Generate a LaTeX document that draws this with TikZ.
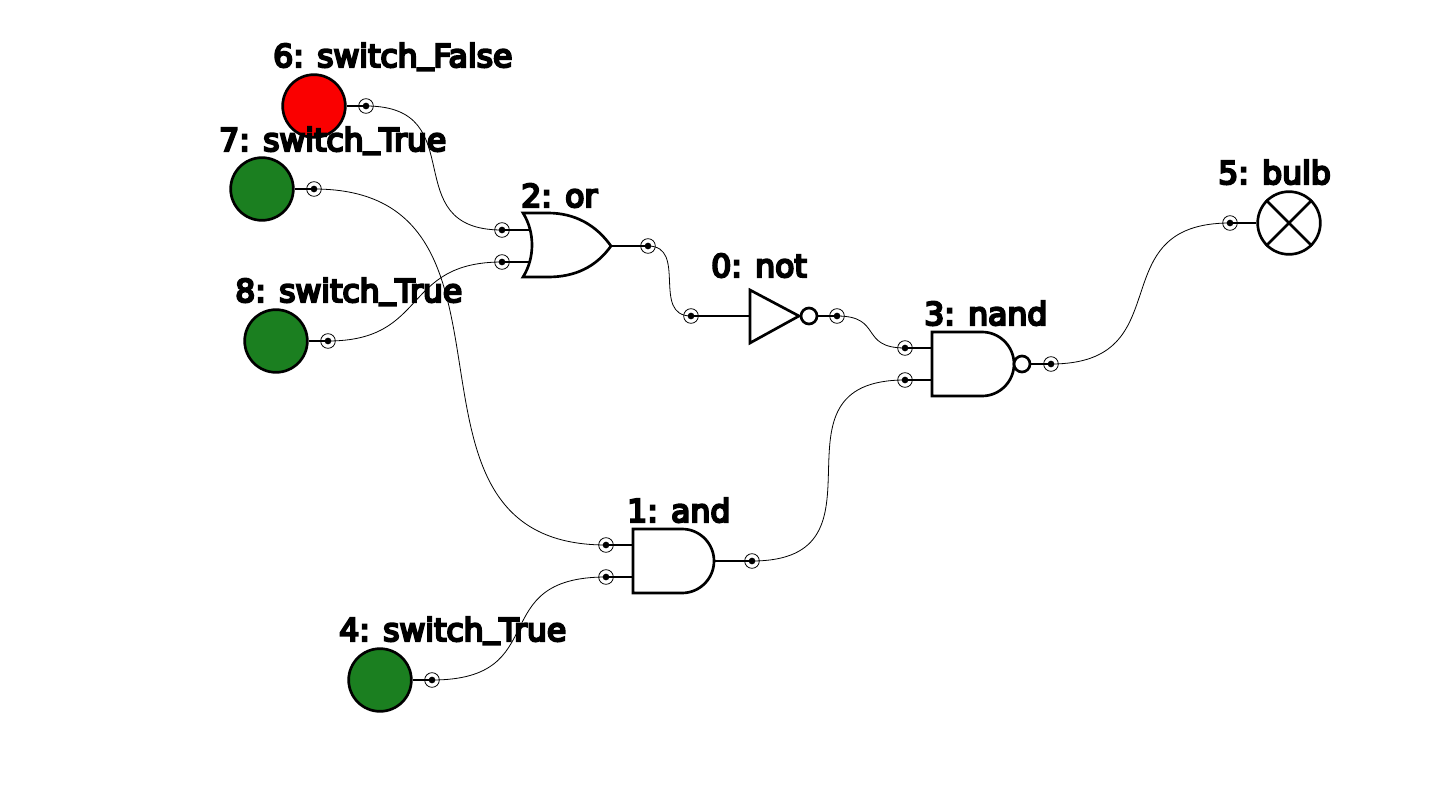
\documentclass[tikz,border=0pt]{standalone}
\usepackage{fontspec}
\newfontfamily\lblfont[FakeBold=7]{DejaVu Sans}
\newcommand{\usc}{\raisebox{3pt}{\_}}
\tikzset{
  x=0.75pt,y=-0.75pt,
  thickline/.style={line width=2pt,draw=black,line join=miter},
  stub/.style={line width=1.6pt,draw=black},
  wire/.style={line width=0.6pt,draw=black},
  pinmark/.style={circle,draw=black,line width=0.6pt,minimum size=11pt,inner sep=0pt},
  pindot/.style={circle,fill=black,minimum size=5pt,inner sep=0pt},
  switchnode/.style={circle,thickline,minimum size=47pt,inner sep=0pt},
  bubble/.style={circle,thickline,fill=white,minimum size=12pt,inner sep=0pt},
  lbl/.style={anchor=base west,inner sep=0pt,font=\lblfont\fontsize{23.6pt}{24pt}\selectfont,text=black},
  pinat/.style={pinmark,label={[pindot]center:}},
}
\definecolor{swgreen}{RGB}{27,127,32}
\definecolor{swred}{RGB}{250,0,0}
\begin{document}
\begin{tikzpicture}
\useasboundingbox[fill=white] (0,0) rectangle (1440,810);
% switches and bulb
\node[switchnode,fill=swred] (s6) at (314,106) {};
\node[switchnode,fill=swgreen] (s7) at (262,189) {};
\node[switchnode,fill=swgreen] (s8) at (276,341) {};
\node[switchnode,fill=swgreen] (s4) at (380,680) {};
\node[switchnode,fill=white] (bulb) at (1289,223) {};
\draw[thickline] (bulb.45) -- (bulb.225) (bulb.135) -- (bulb.315);
% gate terminals
\coordinate (ora) at (531,230);
\coordinate (orb) at (531,262);
\coordinate (orout) at (611,246);
\coordinate (anda) at (633,545);
\coordinate (andb) at (633,577);
\coordinate (andout) at (714,561);
\coordinate (nanda) at (932,348);
\coordinate (nandb) at (932,380);
\coordinate (notin) at (750,316);
\coordinate (nottip) at (799,316);
% pins
\node[pinat] (p6) at (366,106) {};
\node[pinat] (p7) at (314,189) {};
\node[pinat] (p8) at (328,341) {};
\node[pinat] (p4) at (432,680) {};
\node[pinat] (por1) at (502,230) {};
\node[pinat] (por2) at (502,262) {};
\node[pinat] (porout) at (648,246) {};
\node[pinat] (pnotin) at (691,316) {};
\node[pinat] (pnotout) at (837,316) {};
\node[pinat] (pnand1) at (905,348) {};
\node[pinat] (pnand2) at (905,380) {};
\node[pinat] (pnandout) at (1051,364) {};
\node[pinat] (pand1) at (606,545) {};
\node[pinat] (pand2) at (606,577) {};
\node[pinat] (pandout) at (752,561) {};
\node[pinat] (pbulb) at (1230,223) {};
% stubs
\draw[stub] (s6) -- (p6.center); \draw[stub] (s7) -- (p7.center); \draw[stub] (s8) -- (p8.center); \draw[stub] (s4) -- (p4.center);
\draw[stub] (por1.center) -- (ora); \draw[stub] (por2.center) -- (orb); \draw[stub] (orout) -- (porout.center);
\draw[stub] (pand1.center) -- (anda); \draw[stub] (pand2.center) -- (andb); \draw[stub] (andout) -- (pandout.center);
\draw[stub] (pnand1.center) -- (nanda); \draw[stub] (pnand2.center) -- (nandb);
\draw[stub] (pnotin.center) -- (notin); \draw[stub] (pbulb.center) -- (bulb);
% gates
\draw[thickline] (523,213) .. controls (535,232) and (535,258) .. (523,277)
  -- (548,277) .. controls (575,277) and (596,267) .. (orout)
  .. controls (596,225) and (575,213) .. (548,213) -- cycle;
\draw[thickline] (633,529) -- (682,529) arc[start angle=-90,end angle=90,radius=32] -- (633,593) -- cycle;
\draw[thickline] (932,332) -- (982,332) arc[start angle=-90,end angle=90,radius=32] -- (932,396) -- cycle;
\draw[thickline] (750,290) -- (nottip) -- (750,343) -- cycle;
\node[bubble] (bnot) at (809,316) {};
\node[bubble] (bnand) at (1022,364) {};
\draw[stub] (bnot) -- (pnotout.center);
\draw[stub] (bnand) -- (pnandout.center);
% wires
\draw[wire] (p6.center) .. controls +(108,0) and +(-108,0) .. (por1.center);
\draw[wire] (p7.center) .. controls +(236,0) and +(-236,0) .. (pand1.center);
\draw[wire] (p8.center) .. controls +(101,0) and +(-101,0) .. (por2.center);
\draw[wire] (p4.center) .. controls +(123,0) and +(-123,0) .. (pand2.center);
\draw[wire] (porout.center) .. controls +(40,0) and +(-40,0) .. (pnotin.center);
\draw[wire] (pnotout.center) .. controls +(46,0) and +(-46,0) .. (pnand1.center);
\draw[wire] (pnandout.center) .. controls +(132,0) and +(-132,0) .. (pbulb.center);
\draw[wire] (pandout.center) .. controls +(148,0) and +(-148,0) .. (pnand2.center);
% labels
\node[lbl] (l6) at (273,67) {6: switch\usc False};
\node[lbl] (l7) at (219,151) {7: switch\usc True};
\node[lbl] (l8) at (235,302) {8: switch\usc True};
\node[lbl] (l4) at (339,641) {4: switch\usc True};
\node[lbl] (l2) at (521,207) {2: or};
\node[lbl] (l0) at (711,277) {0: not};
\node[lbl] (l3) at (924,325) {3: nand};
\node[lbl] (l1) at (627,522) {1: and};
\node[lbl] (l5) at (1218,184) {5: bulb};
\end{tikzpicture}
\end{document}
